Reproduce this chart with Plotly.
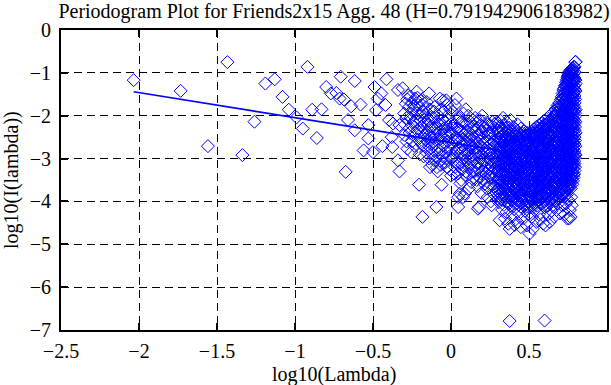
import plotly.graph_objects as go

# ---- data (log10(lambda), log10(I(lambda))) ----
title_text = "Periodogram Plot for Friends2x15 Agg. 48 (H=0.791942906183982)"
x_label = "log10(Lambda)"
y_label = "log10(I(lambda))"
x_ticks = [-2.5, -2, -1.5, -1, -0.5, 0, 0.5, 1]
x_tick_text = ["\u22122.5", "\u22122", "\u22121.5", "\u22121", "\u22120.5", "0", "0.5", "1"]
y_ticks = [0, -1, -2, -3, -4, -5, -6, -7]
y_tick_text = ["0", "\u22121", "\u22122", "\u22123", "\u22124", "\u22125", "\u22126", "\u22127"]

# sparse low-frequency points
pts_sparse = [
    (-2.034, -1.17), (-1.733, -1.42), (-1.558, -2.71), (-1.433, -0.75), (-1.337, -2.92),
    (-1.26, -2.14), (-1.19, -1.25), (-1.13, -1.15), (-1.08, -1.56), (-1.04, -1.86),
    (-0.99, -2.04), (-0.95, -2.30), (-0.92, -0.86), (-0.89, -1.86), (-0.86, -2.52),
    (-0.83, -1.85), (-0.80, -1.33), (-0.77, -1.48), (-0.735, -1.47), (-0.714, -1.60),
    (-0.707, -1.09), (-0.686, -1.62), (-0.675, -3.31), (-0.66, -2.10), (-0.64, -1.78),
    (-0.617, -1.19), (-0.617, -2.34), (-0.58, -1.74), (-0.56, -2.81), (-0.53, -2.22),
    (-0.53, -2.53), (-0.50, -2.85), (-0.49, -1.33), (-0.48, -1.87), (-0.47, -1.60),
    (-0.446, -1.48), (-0.44, -2.71), (-0.42, -1.75), (-0.414, -1.15), (-0.397, -2.10),
    (-0.38, -2.50), (-0.376, -2.73), (-0.372, -2.18), (-0.34, -1.40), (-0.34, -3.04),
    (-0.33, -2.22), (-0.33, -3.30), (-0.31, -1.36),
]

# middle band: x -> list of y values
band_mid = {
    -0.30: [-1.95, -2.45], -0.29: [-1.72], -0.28: [-1.62, -2.77], -0.27: [-1.80, -2.30],
    -0.26: [-1.55, -2.05], -0.25: [-1.70, -2.60], -0.24: [-1.85, -2.15], -0.23: [-1.60, -2.40],
    -0.22: [-1.44, -1.95], -0.21: [-1.75, -2.55], -0.205: [-3.61], -0.20: [-2.00, -2.90],
    -0.19: [-1.65, -2.25], -0.183: [-4.36], -0.18: [-1.90, -2.70], -0.17: [-2.10, -2.45],
    -0.16: [-1.80, -2.85], -0.15: [-2.20, -2.60], -0.14: [-1.48, -2.35, -3.00],
    -0.13: [-2.05, -2.75], -0.12: [-2.50, -3.15], -0.11: [-1.90, -2.30], -0.10: [-2.65, -2.95],
    -0.094: [-4.13], -0.09: [-2.15, -3.20], -0.08: [-2.40, -2.80], -0.072: [-1.60],
    -0.07: [-2.55, -3.05], -0.06: [-3.61, -2.20], -0.05: [-1.64, -2.70], -0.04: [-2.45, -3.10],
    -0.03: [-1.64, -2.85], -0.02: [-2.25, -2.60], -0.01: [-2.95, -3.25],
    0.005: [-2.40, -3.00], 0.01: [-1.90, -2.65], 0.02: [-2.20, -3.35], 0.03: [-2.50, -2.85],
    0.035: [-1.60], 0.04: [-2.05, -3.10], 0.046: [-3.90, -4.13], 0.05: [-2.35, -2.75],
    0.056: [-3.82], 0.06: [-3.58, -2.15, -2.95], 0.07: [-2.55, -3.25], 0.077: [-3.90],
    0.08: [-1.95, -2.80], 0.088: [-3.82], 0.09: [-2.40, -3.05], 0.10: [-2.20, -2.65, -3.40],
    0.11: [-2.00, -2.90], 0.12: [-2.50, -3.15], 0.13: [-2.30, -2.75, -3.55], 0.14: [-2.10, -3.00],
    0.15: [-2.60, -3.30], 0.16: [-2.35, -2.85], 0.17: [-2.15, -3.10, -3.65], 0.173: [-4.17],
    0.18: [-2.45, -2.95, -4.13], 0.19: [-2.70, -3.35], 0.20: [-2.00, -2.55, -3.05],
    0.21: [-2.30, -2.85, -3.50], 0.22: [-2.60, -3.20], 0.23: [-2.15, -2.75, -3.70],
    0.24: [-2.45, -3.00, -3.40], 0.25: [-2.25, -2.90, -3.60], 0.26: [-4.09, -2.65, -3.15],
    0.27: [-2.40, -2.95, -3.45], 0.28: [-2.20, -2.70, -3.25, -3.85], 0.29: [-2.50, -3.05, -3.55],
    0.30: [-2.35, -2.85, -3.30, -3.95],
}

# more points of the middle band (interleaved frequencies)
band_mid_b = {
    -0.295: [-2.20], -0.285: [-2.05, -2.60], -0.275: [-1.52], -0.265: [-2.40],
    -0.255: [-1.95, -2.85], -0.245: [-2.25], -0.235: [-1.78, -2.70], -0.225: [-2.10],
    -0.215: [-1.58, -2.35], -0.195: [-2.10, -2.62], -0.185: [-1.75, -2.40],
    -0.175: [-2.28, -2.95], -0.165: [-1.98, -2.55], -0.155: [-1.68, -2.38],
    -0.145: [-2.12, -2.70], -0.135: [-1.85, -2.50, -3.20], -0.125: [-2.25, -2.88],
    -0.115: [-2.05, -2.62], -0.105: [-1.80, -2.42, -3.05], -0.095: [-2.30, -2.75],
    -0.085: [-1.98, -2.55, -3.30], -0.075: [-2.20, -2.88], -0.065: [-1.85, -2.45, -3.15],
    -0.055: [-2.10, -2.95], -0.045: [-1.90, -2.30, -2.62], -0.035: [-2.15, -3.00],
    -0.025: [-1.75, -2.45, -3.20], -0.015: [-2.05, -2.72], -0.005: [-1.85, -2.40],
    0.0: [-2.20, -2.80, -3.40], 0.015: [-2.30, -2.95], 0.025: [-1.75, -2.60, -3.20],
    0.038: [-2.30, -2.80], 0.045: [-2.55, -3.35], 0.055: [-2.05, -2.62, -3.10],
    0.065: [-2.35, -2.85, -3.50], 0.075: [-2.15, -2.70, -3.15], 0.085: [-2.45, -2.98],
    0.095: [-1.85, -2.60, -3.30], 0.105: [-2.35, -2.85], 0.115: [-2.55, -3.20, -3.70],
    0.125: [-2.15, -2.70, -3.00], 0.135: [-2.45, -2.92, -3.30], 0.145: [-2.25, -2.65, -3.45],
    0.155: [-2.05, -2.90, -3.15], 0.165: [-2.50, -2.75, -3.50], 0.175: [-2.30, -2.85, -3.25],
    0.185: [-2.10, -2.60, -3.45], 0.195: [-2.40, -2.90, -3.15, -3.80],
    0.205: [-2.25, -2.75, -3.30], 0.215: [-2.50, -3.05, -3.60], 0.225: [-2.35, -2.90, -3.35],
    0.235: [-2.20, -2.60, -3.10, -3.90], 0.245: [-2.40, -2.80, -3.25],
    0.255: [-2.55, -3.05, -3.45, -4.00], 0.265: [-2.15, -2.85, -3.30],
    0.275: [-2.60, -3.10, -3.65], 0.285: [-2.30, -2.95, -3.40], 0.295: [-2.15, -2.75, -3.20, -3.75],
}

# dense high-frequency band: x -> list of y values
band_dense = {
    0.302: [-2.18, -2.62, -2.95, -3.28, -3.70],
    0.307: [-2.40, -2.78, -3.12, -3.45, -4.02],
    0.312: [-2.25, -2.55, -2.88, -3.20, -3.58, -4.44],
    0.318: [-2.12, -2.70, -3.02, -3.36, -3.82],
    0.323: [-2.48, -2.84, -3.15, -3.50, -3.95],
    0.328: [-2.30, -2.60, -2.92, -3.26, -3.64, -4.20],
    0.334: [-2.05, -2.74, -3.06, -3.40, -3.78],
    0.339: [-2.42, -2.80, -3.18, -3.55, -4.08],
    0.345: [-2.22, -2.58, -2.96, -3.32, -3.70, -4.40],
    0.350: [-2.50, -2.86, -3.22, -3.48, -3.90],
    0.356: [-2.15, -2.68, -3.00, -3.38, -3.76, -4.25],
    0.361: [-2.35, -2.76, -3.10, -3.58, -4.00],
    0.367: [-2.55, -2.90, -3.28, -3.66, -4.52],
    0.372: [-2.28, -2.64, -3.04, -3.44, -3.84],
    0.376: [-2.45, -2.82, -3.16, -3.52, -4.64, -6.79],
    0.382: [-2.10, -2.70, -2.98, -3.36, -3.72, -4.10],
    0.387: [-2.38, -2.60, -2.92, -3.24, -3.62, -3.96],
    0.393: [-2.52, -2.86, -3.12, -3.46, -3.88, -4.35],
    0.398: [-2.26, -2.74, -3.06, -3.40, -3.80],
    0.404: [-2.44, -2.66, -3.00, -3.30, -3.70, -4.18],
    0.409: [-2.58, -2.94, -3.20, -3.56, -3.92, -4.55],
    0.415: [-2.32, -2.78, -3.10, -3.44, -3.76],
    0.420: [-2.48, -2.70, -3.02, -3.34, -3.66, -4.05],
    0.426: [-2.20, -2.62, -2.96, -3.26, -3.60, -3.98, -4.48],
    0.431: [-2.54, -2.88, -3.16, -3.50, -3.84],
    0.437: [-2.40, -2.72, -3.08, -3.38, -3.74, -4.28],
    0.442: [-2.60, -2.92, -3.22, -3.54, -3.90],
    0.448: [-2.30, -2.66, -3.00, -3.30, -3.64, -4.12, -4.60],
    0.453: [-2.50, -2.82, -3.14, -3.46, -3.80],
    0.459: [-2.42, -2.76, -3.06, -3.36, -3.70, -4.02],
    0.464: [-2.62, -2.94, -3.24, -3.58, -3.94, -4.40],
    0.470: [-2.36, -2.70, -3.02, -3.32, -3.66, -3.86],
    0.475: [-2.56, -2.86, -3.18, -3.48, -3.78, -4.22],
    0.481: [-2.46, -2.78, -3.10, -3.40, -3.72, -4.06],
    0.486: [-2.64, -2.96, -3.26, -3.56, -3.92, -4.56],
    0.492: [-2.40, -2.72, -3.04, -3.34, -3.68, -4.00],
    0.497: [-2.58, -2.90, -3.20, -3.50, -3.84, -4.30],
    0.503: [-2.44, -2.76, -3.08, -3.38, -3.70, -4.75],
    0.508: [-2.62, -2.92, -3.22, -3.54, -3.88, -4.14],
    0.514: [-2.38, -2.70, -3.00, -3.30, -3.64, -3.96],
    0.519: [-2.54, -2.84, -3.14, -3.46, -3.80, -4.36],
    0.525: [-2.46, -2.78, -3.10, -3.40, -3.74, -4.64],
    0.530: [-2.32, -2.66, -2.96, -3.28, -3.60, -3.94],
    0.536: [-2.52, -2.86, -3.18, -3.50, -3.82, -4.20],
    0.541: [-2.40, -2.74, -3.04, -3.36, -3.68, -4.02],
    0.547: [-2.26, -2.60, -2.92, -3.24, -3.56, -3.90, -4.48],
    0.552: [-2.48, -2.80, -3.12, -3.44, -3.76, -4.10],
    0.558: [-2.36, -2.68, -3.00, -3.32, -3.64, -3.98],
    0.563: [-2.22, -2.56, -2.88, -3.20, -3.52, -3.86, -4.30],
    0.569: [-2.44, -2.76, -3.08, -3.40, -3.72],
    0.574: [-2.30, -2.62, -2.94, -3.26, -3.58, -3.94, -4.42],
    0.580: [-2.18, -2.50, -2.82, -3.14, -3.46, -3.80],
    0.585: [-2.38, -2.70, -3.02, -3.34, -3.66, -4.05],
    0.591: [-2.26, -2.58, -2.90, -3.22, -3.54, -3.88, -4.52],
    0.596: [-2.12, -2.46, -2.78, -3.10, -3.42, -3.76],
    0.600: [-2.34, -2.66, -2.98, -3.30, -3.62, -4.00, -6.78],
    0.606: [-2.20, -2.52, -2.84, -3.16, -3.48, -3.82, -4.56],
    0.611: [-2.08, -2.42, -2.74, -3.06, -3.38, -3.70, -4.12],
    0.617: [-2.30, -2.62, -2.94, -3.26, -3.58, -3.92],
    0.622: [-2.16, -2.48, -2.80, -3.12, -3.44, -3.78, -4.30],
    0.628: [-2.02, -2.38, -2.70, -3.02, -3.34, -3.66, -4.02],
    0.633: [-2.24, -2.56, -2.88, -3.20, -3.52, -3.86, -4.48],
    0.639: [-2.10, -2.44, -2.76, -3.08, -3.40, -3.72],
    0.644: [-1.96, -2.32, -2.64, -2.96, -3.28, -3.60, -3.96, -4.22],
    0.650: [-2.18, -2.50, -2.82, -3.14, -3.46, -3.80],
    0.655: [-2.04, -2.38, -2.70, -3.02, -3.34, -3.66, -4.08],
    0.661: [-1.90, -2.26, -2.58, -2.90, -3.22, -3.54, -3.88, -4.36],
    0.666: [-2.12, -2.44, -2.76, -3.08, -3.40, -3.72],
    0.672: [-1.84, -2.00, -2.32, -2.64, -2.96, -3.28, -3.60, -3.98],
    0.677: [-2.18, -2.50, -2.82, -3.14, -3.46, -3.82, -4.20],
    0.683: [-1.76, -2.06, -2.38, -2.70, -3.02, -3.34, -3.66],
    0.688: [-1.92, -2.24, -2.56, -2.88, -3.20, -3.52, -3.90, -4.05],
    0.694: [-1.70, -2.10, -2.42, -2.74, -3.06, -3.38, -3.72],
    0.699: [-1.84, -2.16, -2.48, -2.80, -3.12, -3.44, -3.80, -4.28],
    0.705: [-1.62, -1.98, -2.30, -2.62, -2.94, -3.26, -3.58],
    0.710: [-1.56, -1.90, -2.22, -2.54, -2.86, -3.18, -3.50, -3.88],
    0.715: [-1.48, -1.76, -2.08, -2.40, -2.72, -3.04, -3.36, -3.70, -4.10],
    0.720: [-1.40, -1.68, -2.00, -2.32, -2.64, -2.96, -3.28, -3.62],
    0.725: [-1.36, -1.60, -1.92, -2.24, -2.56, -2.88, -3.20, -3.52, -3.90],
    0.730: [-1.30, -1.54, -1.86, -2.18, -2.50, -2.82, -3.14, -3.46, -4.30],
    0.734: [-1.46, -1.78, -2.10, -2.42, -2.74, -3.06, -3.38, -3.76],
    0.738: [-1.22, -1.40, -1.70, -2.02, -2.34, -2.66, -2.98, -3.30, -3.64, -4.05],
    0.742: [-1.16, -1.52, -1.84, -2.16, -2.48, -2.80, -3.12, -3.44, -3.84],
    0.746: [-1.10, -1.34, -1.62, -1.94, -2.26, -2.58, -2.90, -3.22, -3.54, -4.40],
    0.750: [-1.06, -1.28, -1.56, -1.88, -2.20, -2.52, -2.84, -3.16, -3.50, -3.96],
    0.754: [-1.02, -1.44, -1.76, -2.08, -2.40, -2.72, -3.04, -3.36, -3.70],
    0.758: [-0.98, -1.22, -1.50, -1.82, -2.14, -2.46, -2.78, -3.10, -3.42, -4.40],
    0.762: [-0.96, -1.16, -1.40, -1.70, -2.02, -2.34, -2.66, -2.98, -3.30, -3.62, -4.20],
    0.766: [-1.10, -1.32, -1.62, -1.94, -2.26, -2.58, -2.90, -3.22, -3.54, -4.36],
    0.770: [-0.92, -1.04, -1.26, -1.56, -1.88, -2.20, -2.52, -2.84, -3.16, -3.48, -3.90],
    0.774: [-1.00, -1.20, -1.48, -1.80, -2.12, -2.44, -2.76, -3.08, -3.40, -4.09],
    0.778: [-0.90, -1.14, -1.42, -1.72, -2.04, -2.36, -2.68, -3.00, -3.32, -3.60],
    0.782: [-0.94, -1.08, -1.36, -1.64, -1.96, -2.28, -2.60, -2.92, -3.24, -3.52],
    0.786: [-0.86, -1.02, -1.30, -1.58, -1.90, -2.22, -2.54, -2.86, -3.18, -3.44],
    0.789: [-1.16, -1.46, -1.78, -2.10, -2.42, -2.74, -3.06, -3.36],
    0.792: [-0.86, -1.12, -1.38, -1.70, -2.02, -2.34, -2.66, -2.98, -3.28],
    0.795: [-1.17, -1.42, -1.62, -1.94, -2.26, -2.58, -2.90, -3.20],
    0.797: [-0.75, -1.17, -1.42, -2.14, -2.71, -2.92],
    0.799: [-0.74, -1.25, -1.86, -2.40],
}

# more points of the dense band (interleaved frequencies)
band_dense_b = {
    0.305: [-2.52, -2.86, -3.18, -3.52, -3.86],
    0.315: [-2.38, -2.72, -3.04, -3.40, -3.74],
    0.326: [-2.56, -2.88, -3.22, -3.56, -3.88],
    0.337: [-2.34, -2.66, -3.00, -3.34, -3.68, -3.98],
    0.348: [-2.40, -2.72, -3.06, -3.40, -3.74],
    0.358: [-2.50, -2.84, -3.16, -3.50, -3.86],
    0.369: [-2.36, -2.70, -3.02, -3.36, -3.72, -4.06],
    0.379: [-2.56, -2.90, -3.22, -3.58, -3.90],
    0.390: [-2.44, -2.76, -3.08, -3.42, -3.76],
    0.400: [-2.34, -2.62, -2.94, -3.26, -3.60, -3.94],
    0.411: [-2.44, -2.76, -3.08, -3.40, -3.72, -4.06],
    0.423: [-2.36, -2.84, -3.14, -3.46, -3.80],
    0.434: [-2.50, -2.80, -3.12, -3.44, -3.76, -4.08],
    0.445: [-2.44, -2.76, -3.06, -3.38, -3.72, -3.98],
    0.456: [-2.56, -2.88, -3.20, -3.52, -3.86],
    0.467: [-2.48, -2.80, -3.12, -3.44, -3.76, -4.10],
    0.478: [-2.40, -2.70, -3.02, -3.34, -3.64, -3.96],
    0.489: [-2.52, -2.84, -3.16, -3.46, -3.78, -4.12],
    0.500: [-2.46, -2.78, -3.10, -3.42, -3.74, -4.00],
    0.511: [-2.50, -2.82, -3.14, -3.46, -3.78, -4.08],
    0.522: [-2.40, -2.70, -3.02, -3.32, -3.64, -3.96],
    0.533: [-2.46, -2.78, -3.10, -3.42, -3.74, -4.06],
    0.544: [-2.36, -2.68, -3.00, -3.32, -3.64, -3.96],
    0.555: [-2.30, -2.62, -2.94, -3.26, -3.58, -3.90],
    0.566: [-2.36, -2.68, -3.00, -3.32, -3.64, -3.96],
    0.577: [-2.44, -2.76, -3.08, -3.40, -3.72, -4.04],
    0.588: [-2.30, -2.62, -2.94, -3.26, -3.58, -3.90],
    0.599: [-2.20, -2.52, -2.84, -3.16, -3.48, -3.80, -4.14],
    0.609: [-2.34, -2.66, -2.98, -3.30, -3.62, -3.96],
    0.620: [-2.24, -2.56, -2.88, -3.20, -3.52, -3.86, -4.10],
    0.631: [-2.12, -2.44, -2.76, -3.08, -3.40, -3.72, -3.98],
    0.642: [-2.20, -2.52, -2.84, -3.16, -3.48, -3.80],
    0.653: [-2.10, -2.42, -2.74, -3.06, -3.38, -3.70, -3.94],
    0.664: [-2.00, -2.34, -2.66, -2.98, -3.30, -3.62, -3.94],
    0.675: [-1.94, -2.26, -2.58, -2.90, -3.22, -3.54, -3.86],
    0.686: [-1.84, -2.16, -2.48, -2.80, -3.12, -3.44, -3.76],
    0.697: [-1.78, -2.06, -2.38, -2.70, -3.02, -3.34, -3.66, -3.92],
    0.707: [-1.76, -2.14, -2.46, -2.78, -3.10, -3.42, -3.74],
    0.717: [-1.60, -1.92, -2.24, -2.56, -2.88, -3.20, -3.52, -3.84],
    0.727: [-1.48, -1.76, -2.08, -2.40, -2.72, -3.04, -3.36, -3.68],
    0.736: [-1.30, -1.62, -1.94, -2.26, -2.58, -2.90, -3.22, -3.54, -3.86],
    0.744: [-1.24, -1.44, -1.78, -2.10, -2.42, -2.74, -3.06, -3.38, -3.70],
    0.752: [-1.16, -1.40, -1.72, -2.04, -2.36, -2.68, -3.00, -3.32, -3.64],
    0.760: [-1.08, -1.34, -1.66, -1.98, -2.30, -2.62, -2.94, -3.26, -3.58],
    0.768: [-1.00, -1.18, -1.46, -1.78, -2.10, -2.42, -2.74, -3.06, -3.38, -3.70],
    0.776: [-0.96, -1.26, -1.56, -1.88, -2.20, -2.52, -2.84, -3.16, -3.46],
    0.784: [-0.90, -1.22, -1.50, -1.82, -2.14, -2.46, -2.78, -3.10, -3.38],
    0.791: [-0.98, -1.30, -1.54, -1.86, -2.18, -2.50, -2.82, -3.12],
}

# least-squares fit shown in the reference (slope = 1 - 2H)
fit_slope = -0.584
fit_intercept = -2.63

# ---- assemble ----
xs = [p[0] for p in pts_sparse]
ys = [p[1] for p in pts_sparse]
for band in (band_mid, band_mid_b, band_dense, band_dense_b):
    for xv, yl in band.items():
        for yv in yl:
            xs.append(xv)
            ys.append(yv)

fit_x = [min(xs), max(xs)]
fit_y = [fit_intercept + fit_slope * v for v in fit_x]

BLUE = "#0000ff"
FONT = "Liberation Serif"
FS = 20

fig = go.Figure()
fig.add_trace(go.Scatter(
    x=xs, y=ys, mode="markers",
    marker=dict(symbol="diamond-open", size=10, color=BLUE, line=dict(width=1, color=BLUE)),
    showlegend=False,
))
fig.add_trace(go.Scatter(
    x=fit_x, y=fit_y, mode="lines",
    line=dict(color=BLUE, width=1.6),
    showlegend=False,
))

axis_common = dict(
    showgrid=True, gridcolor="black", gridwidth=1, griddash="8px,5px",
    showline=True, linecolor="black", linewidth=2, mirror="ticks",
    ticks="inside", ticklen=7, tickwidth=2, tickcolor="black",
    zeroline=False, automargin=False,
    tickfont=dict(family=FONT, size=FS, color="black"),
)

fig.update_layout(
    width=611, height=385,
    margin=dict(l=61, r=4, t=30, b=55),
    paper_bgcolor="white", plot_bgcolor="white",
    title=dict(text=title_text, font=dict(family=FONT, size=FS, color="black"),
               x=0.5, xref="paper", xanchor="center",
               y=1 - 11 / 385, yref="container", yanchor="middle"),
    xaxis=dict(range=[-2.5, 1], tickvals=x_ticks, ticktext=x_tick_text,
               ticklabelstandoff=2, **axis_common),
    yaxis=dict(range=[-7, 0], tickvals=y_ticks, ticktext=y_tick_text,
               ticklabelstandoff=4, **axis_common),
    annotations=[
        dict(text=x_label, xref="paper", yref="paper", x=0.5, y=-44 / 299,
             xanchor="center", yanchor="middle", showarrow=False,
             font=dict(family=FONT, size=FS, color="black")),
        dict(text=y_label, xref="paper", yref="paper", x=-50 / 546, y=0.5,
             xanchor="center", yanchor="middle", textangle=-90, showarrow=False,
             font=dict(family=FONT, size=FS, color="black")),
    ],
)

# remove the browser's default page margin so the figure sits at the window's origin
fig.write_html("out.html", config={"displayModeBar": False},
               post_script="document.body.style.margin='0';")
